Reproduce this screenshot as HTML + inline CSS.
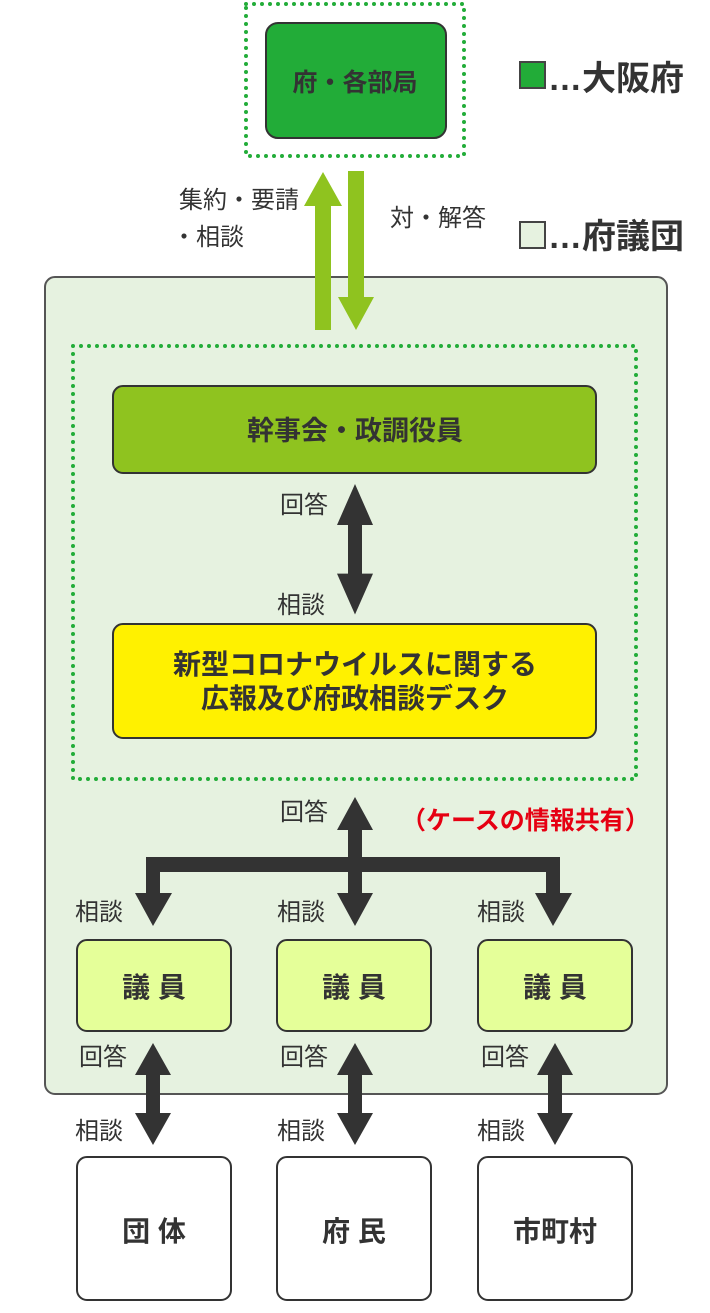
<!DOCTYPE html>
<html><head><meta charset="utf-8"><style>
body{margin:0;background:#fff}
svg text{font-family:"Liberation Sans","Noto Sans CJK JP",sans-serif;fill:#333}
.b{font-weight:bold}
</style></head><body>
<svg width="710" height="1308" viewBox="0 0 710 1308" xmlns="http://www.w3.org/2000/svg">
<defs>
<g id="dbl"><polygon points="0,0 18,32 7,32 7,70 18,70 0,102 -18,70 -7,70 -7,32 -18,32" fill="#333"/></g>
</defs>
<rect x="246" y="4" width="218" height="152" fill="none" stroke="#22ac38" stroke-width="4" stroke-dasharray="0 8" stroke-linecap="round"/>
<rect x="266" y="23" width="180" height="115" rx="12" fill="#22ac38" stroke="#333" stroke-width="2"/>
<text x="355" y="91" text-anchor="middle" font-size="25" class="b">府・各部局</text>
<rect x="520" y="62" width="25" height="26" fill="#22ac38" stroke="#444" stroke-width="2"/>
<text x="548" y="90" font-size="34" class="b">…大阪府</text>
<rect x="520" y="222" width="25" height="26" fill="#e6f2e0" stroke="#444" stroke-width="2"/>
<text x="548" y="248" font-size="34" class="b">…府議団</text>
<rect x="45" y="277" width="622" height="817" rx="10" fill="#e6f2e0" stroke="#555" stroke-width="2"/>
<polygon points="323,172 342,206 331,206 331,330 315,330 315,206 304,206" fill="#8fc31f"/>
<polygon points="348,171 364,171 364,297 374,297 356,330 338,297 348,297" fill="#8fc31f"/>
<text x="179" y="208" font-size="24">集約・要請</text>
<text x="172" y="245" font-size="24">・相談</text>
<text x="390" y="226" font-size="24">対・解答</text>
<rect x="73" y="346" width="563" height="433" fill="none" stroke="#22ac38" stroke-width="4" stroke-dasharray="0 8" stroke-linecap="round"/>
<rect x="113" y="386" width="483" height="87" rx="10" fill="#8fc31f" stroke="#333" stroke-width="2"/>
<text x="355" y="440" text-anchor="middle" font-size="27" class="b">幹事会・政調役員</text>
<use href="#dbl" transform="translate(355,484) scale(1,1.28)"/>
<text x="280" y="513" font-size="24">回答</text>
<text x="277" y="613" font-size="24">相談</text>
<rect x="113" y="624" width="483" height="114" rx="10" fill="#fff100" stroke="#333" stroke-width="2"/>
<text x="355" y="674" text-anchor="middle" font-size="28" class="b">新型コロナウイルスに関する</text>
<text x="355" y="708" text-anchor="middle" font-size="28" class="b">広報及び府政相談デスク</text>
<polygon points="355,797 373,830 362,830 362,857 560,857 560,893 572,893 553,926 535,893 546,893 546,872 362,872 362,893 373,893 355,926 337,893 348,893 348,872 160,872 160,893 172,893 153,926 135,893 146,893 146,857 348,857 348,830 337,830" fill="#333"/>
<text x="280" y="820" font-size="24">回答</text>
<text x="401" y="829" font-size="25" class="b" style="fill:#e60012">（ケースの情報共有）</text>
<text x="75" y="920" font-size="24">相談</text>
<text x="277" y="920" font-size="24">相談</text>
<text x="477" y="920" font-size="24">相談</text>
<g stroke="#333" stroke-width="2">
<rect x="77" y="940" width="154" height="91" rx="10" fill="#e5ff99"/>
<rect x="277" y="940" width="154" height="91" rx="10" fill="#e5ff99"/>
<rect x="478" y="940" width="154" height="91" rx="10" fill="#e5ff99"/>
<rect x="77" y="1157" width="154" height="143" rx="10" fill="#fff"/>
<rect x="277" y="1157" width="154" height="143" rx="10" fill="#fff"/>
<rect x="478" y="1157" width="154" height="143" rx="10" fill="#fff"/>
</g>
<text x="154" y="997" text-anchor="middle" font-size="28" class="b">議 員</text>
<text x="354" y="997" text-anchor="middle" font-size="28" class="b">議 員</text>
<text x="555" y="997" text-anchor="middle" font-size="28" class="b">議 員</text>
<use href="#dbl" transform="translate(153,1043)"/>
<use href="#dbl" transform="translate(355,1043)"/>
<use href="#dbl" transform="translate(555,1043)"/>
<text x="79" y="1065" font-size="24">回答</text>
<text x="280" y="1065" font-size="24">回答</text>
<text x="481" y="1065" font-size="24">回答</text>
<text x="75" y="1139" font-size="24">相談</text>
<text x="277" y="1139" font-size="24">相談</text>
<text x="477" y="1139" font-size="24">相談</text>
<text x="154" y="1241" text-anchor="middle" font-size="28" class="b">団 体</text>
<text x="354" y="1241" text-anchor="middle" font-size="28" class="b">府 民</text>
<text x="555" y="1241" text-anchor="middle" font-size="28" class="b">市町村</text>
</svg>
</body></html>
